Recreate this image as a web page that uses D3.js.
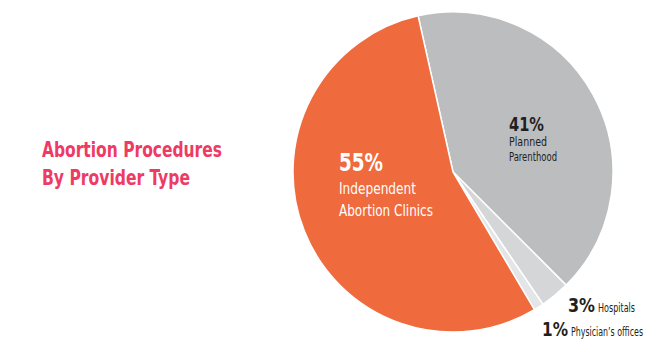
<!DOCTYPE html>
<html>
<head>
<meta charset="utf-8">
<script src="https://cdn.jsdelivr.net/npm/d3@7"></script>
<style>
  html, body { margin: 0; padding: 0; background: #fff; }
  svg { display: block; }
  text { font-family: "Liberation Sans Narrow", "DejaVu Sans Condensed", "Roboto", sans-serif; }
</style>
</head>
<body>
<div id="chart"></div>
<script>
const categories = ["Planned Parenthood", "Hospitals", "Physician's offices", "Independent Abortion Clinics"];
const values = [41, 3, 1, 55];
const colors = ["#bcbdbf", "#d5d6d8", "#e4e5e6", "#ef6a3d"];
const titleLines = ["Abortion Procedures", "By Provider Type"];

const width = 665, height = 354;
const cx = 453, cy = 172, radius = 160;
const startDeg = -12.6;

const svg = d3.select('#chart').append('svg')
  .attr('width', width).attr('height', height);

// title
const title = svg.append('text').attr('fill', '#ee3a64')
  .attr('font-weight', 'bold').attr('font-size', '22px');
title.selectAll('tspan').data(titleLines).join('tspan')
  .attr('x', 42).attr('y', (d, i) => 157 + i * 28)
  .attr('textLength', (d, i) => i === 0 ? 180 : 148)
  .attr('lengthAdjust', 'spacingAndGlyphs')
  .text(d => d);

const pie = d3.pie().sort(null)
  .startAngle(startDeg * Math.PI / 180)
  .endAngle(startDeg * Math.PI / 180 + 2 * Math.PI);
const arc = d3.arc().innerRadius(0).outerRadius(radius);

const g = svg.append('g').attr('transform', `translate(${cx},${cy})`);
g.selectAll('path').data(pie(values)).join('path')
  .attr('d', arc)
  .attr('fill', (d, i) => colors[i])
  .attr('stroke', '#fff').attr('stroke-width', 1.5);

function label(x, y, txt, size, weight, color, len) {
  svg.append('text').attr('x', x).attr('y', y)
    .attr('font-size', size + 'px').attr('font-weight', weight)
    .attr('fill', color)
    .attr('textLength', len).attr('lengthAdjust', 'spacingAndGlyphs')
    .text(txt);
}
const pct = v => v + '%';

label(339, 171, pct(values[3]), 25, 'bold', '#fff', 44);
label(339, 194, 'Independent', 16, 'normal', '#fff', 77);
label(339, 216, 'Abortion Clinics', 16, 'normal', '#fff', 94);

label(509, 131, pct(values[0]), 20, 'bold', '#231f20', 35);
label(509, 146, 'Planned', 13, 'normal', '#231f20', 38);
label(509, 161, 'Parenthood', 13, 'normal', '#231f20', 48);

label(568, 312, pct(values[1]), 19, 'bold', '#231f20', 27);
label(598, 312, categories[1], 13, 'normal', '#231f20', 37);
label(542, 336, pct(values[2]), 19, 'bold', '#231f20', 26);
label(571, 336, categories[2].replace("'", "\u2019"), 13, 'normal', '#231f20', 72);
</script>
</body>
</html>
